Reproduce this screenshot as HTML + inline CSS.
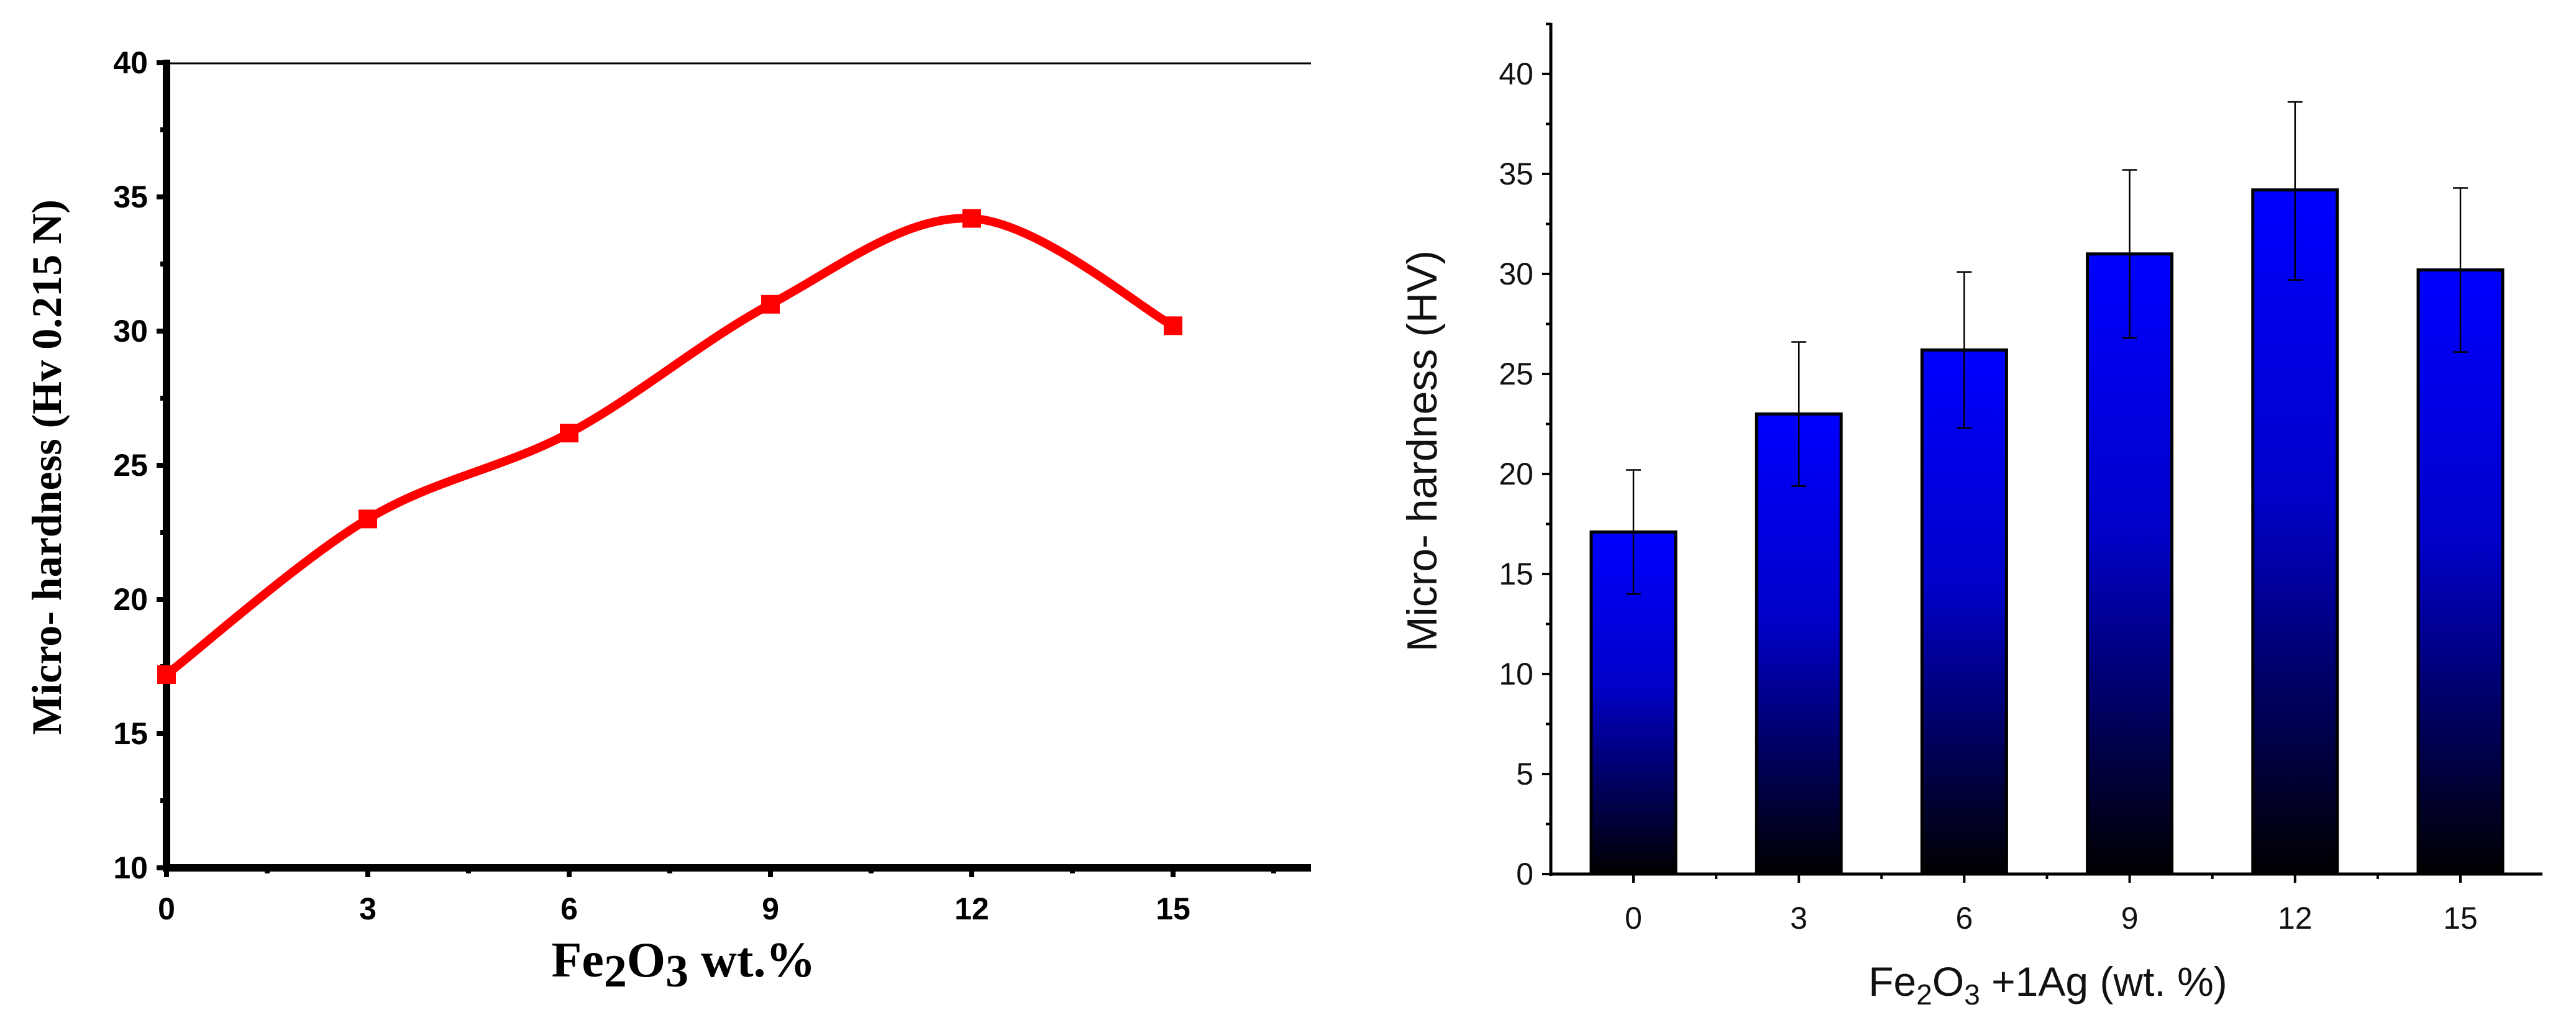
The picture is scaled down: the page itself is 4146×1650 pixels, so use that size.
<!DOCTYPE html>
<html><head><meta charset="utf-8"><style>
body{margin:0;background:#fff}
svg{display:block}
</style></head><body>
<svg id="fig" width="4146" height="1650" xmlns="http://www.w3.org/2000/svg">
<defs><linearGradient id="bg" x1="0" y1="0" x2="0" y2="1"><stop offset="0" stop-color="#0000ff"/><stop offset="0.45" stop-color="#0000c8"/><stop offset="1" stop-color="#000000"/></linearGradient></defs>
<g id="left"></g>
<g id="right"></g>
</svg>
<script>
const lineX = [0,3,6,9,12,15];
const lineY = [17.2,23.0,26.2,31.0,34.2,30.2];
const leftYTicks = [10,15,20,25,30,35,40];
const leftXTicks = [0,3,6,9,12,15];
const barCats = ['0','3','6','9','12','15'];
const barVals = [17.1,23.0,26.2,31.0,34.2,30.2];
const errLow = [14.0,19.4,22.3,26.8,29.7,26.1];
const errHigh = [20.2,26.6,30.1,35.2,38.6,34.3];
const rightYTicks = [0,5,10,15,20,25,30,35,40];

const NS='http://www.w3.org/2000/svg';
function mk(p,t,a,txt){const e=document.createElementNS(NS,t);for(const k in a)e.setAttribute(k,a[k]);if(txt!==undefined)e.textContent=txt;p.appendChild(e);return e;}

// LEFT
const L=document.getElementById('left');
const lx=v=>268+v*108, ly=v=>1397-(v-10)*43.2;
mk(L,'line',{x1:268,y1:102,x2:2110,y2:102,stroke:'#000','stroke-width':3});
for(let v=10;v<=40;v+=2.5){const major=v%5===0;
 const t=mk(L,'line',{x1:major?252:258,y1:ly(v),x2:268,y2:ly(v),stroke:'#000','stroke-width':8});
 }
leftYTicks.forEach(v=>{const t=mk(L,'text',{x:238,y:ly(v)+17,'text-anchor':'end','font-family':'Liberation Sans, sans-serif','font-weight':'bold','font-size':50},String(v));
 });
for(let v=0;v<=16.5;v+=1.5){const major=v%3===0;
 const t=mk(L,'line',{x1:lx(v),y1:1397,x2:lx(v),y2:major?1412:1406,stroke:'#000','stroke-width':8});
 }
leftXTicks.forEach(v=>{const t=mk(L,'text',{x:lx(v),y:1480,'text-anchor':'middle','font-family':'Liberation Sans, sans-serif','font-weight':'bold','font-size':50},String(v));
 });
mk(L,'line',{x1:268,y1:96,x2:268,y2:1403,stroke:'#000','stroke-width':12});
mk(L,'line',{x1:262,y1:1397,x2:2110,y2:1397,stroke:'#000','stroke-width':12});
const pts=lineX.map((x,i)=>[lx(x),ly(lineY[i])]);
let d='M'+pts[0][0]+','+pts[0][1];
for(let i=0;i<pts.length-1;i++){const p0=pts[Math.max(0,i-1)],p1=pts[i],p2=pts[i+1],p3=pts[Math.min(pts.length-1,i+2)];
 d+=' C'+(p1[0]+(p2[0]-p0[0])/6)+','+(p1[1]+(p2[1]-p0[1])/6)+' '+(p2[0]-(p3[0]-p1[0])/6)+','+(p2[1]-(p3[1]-p1[1])/6)+' '+p2[0]+','+p2[1];}
const path=mk(L,'path',{d:d,fill:'none',stroke:'#ff0000','stroke-width':14});

pts.forEach(p=>{const m=mk(L,'rect',{x:p[0]-15,y:p[1]-15,width:30,height:30,fill:'#ff0000'});
 });
const lyt=mk(L,'text',{transform:'translate(98,752) rotate(-90)','text-anchor':'middle','font-family':'Liberation Serif, serif','font-weight':'bold','font-size':68},'Micro- hardness (Hv 0.215 N)');

const lxt=mk(L,'text',{x:1100,y:1572,'text-anchor':'middle','font-family':'Liberation Serif, serif','font-weight':'bold','font-size':80});

lxt.innerHTML='Fe<tspan dy="16" font-size="74">2</tspan><tspan dy="-16">O</tspan><tspan dy="16" font-size="74">3</tspan><tspan dy="-16"> wt.%</tspan>';

// RIGHT
const R=document.getElementById('right');
const rx=i=>2629+i*266.2, ry=v=>1407-v*32.2;
barCats.forEach((c,i)=>{
 const b=mk(R,'rect',{x:rx(i)-68,y:ry(barVals[i]),width:136,height:ry(0)-ry(barVals[i]),fill:'url(#bg)',stroke:'#000','stroke-width':5});
 
 const e=mk(R,'path',{d:'M'+rx(i)+','+ry(errLow[i])+' V'+ry(errHigh[i])+' M'+(rx(i)-12)+','+ry(errLow[i])+' h24 M'+(rx(i)-12)+','+ry(errHigh[i])+' h24',stroke:'#000','stroke-width':2.5,fill:'none'});
 
 const t=mk(R,'text',{x:rx(i),y:1495,'text-anchor':'middle','font-family':'Liberation Sans, sans-serif','font-size':50,fill:'#111'},c);
 
});
mk(R,'line',{x1:2496,y1:37,x2:2496,y2:1410,stroke:'#000','stroke-width':5});
mk(R,'line',{x1:2494,y1:1407,x2:4092,y2:1407,stroke:'#000','stroke-width':5});
for(let v=0;v<=42.5;v+=2.5){const major=v%5===0;
 mk(R,'line',{x1:major?2482:2488,y1:ry(v),x2:2496,y2:ry(v),stroke:'#000','stroke-width':4});}
rightYTicks.forEach(v=>{const t=mk(R,'text',{x:2468,y:ry(v)+17,'text-anchor':'end','font-family':'Liberation Sans, sans-serif','font-size':50,fill:'#111'},String(v));
 });
for(let k=-1;k<=12;k++){const x=2629+k*133.1;if(x<2496||x>4092)continue;
 mk(R,'line',{x1:x,y1:1407,x2:x,y2:k%2===0?1421:1415,stroke:'#000','stroke-width':4});}
const ryt=mk(R,'text',{transform:'translate(2312,726) rotate(-90)','text-anchor':'middle','font-family':'Liberation Sans, sans-serif','font-size':68,fill:'#111'},'Micro- hardness (HV)');

const rxt=mk(R,'text',{x:3296,y:1603,'text-anchor':'middle','font-family':'Liberation Sans, sans-serif','font-size':66,fill:'#111'});

rxt.innerHTML='Fe<tspan dy="14" font-size="46">2</tspan><tspan dy="-14">O</tspan><tspan dy="14" font-size="46">3</tspan><tspan dy="-14"> +1Ag (wt. %)</tspan>';
</script>
</body></html>
